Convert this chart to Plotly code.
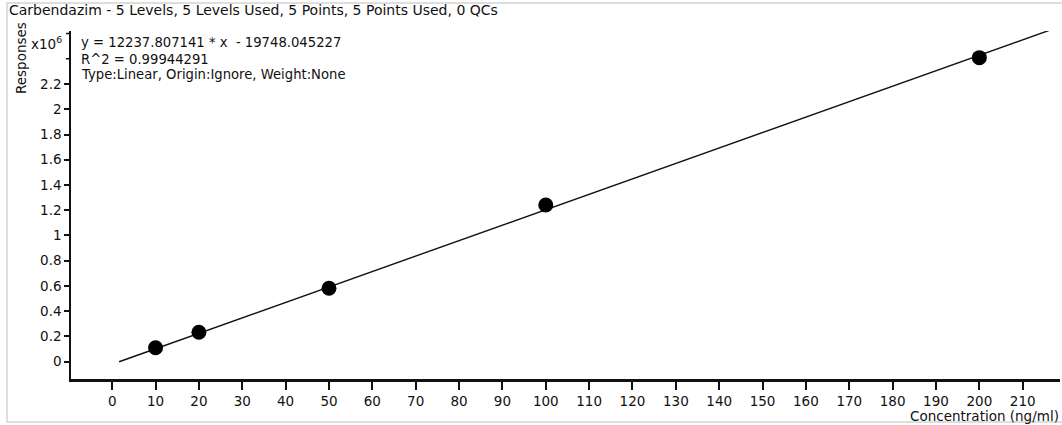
import plotly.graph_objects as go

# Calibration levels and measured responses
concentration = [10, 20, 50, 100, 200]
response = [111000, 233000, 582000, 1242000, 2409000]

# Linear fit parameters
slope = 12237.807141
intercept = -19748.045227
r_squared = 0.99944291
fit_x = [1.6, 216.5]
fit_y = [slope * x + intercept for x in fit_x]

# Axis ticks
x_ticks = list(range(0, 220, 10))
y_tick_vals = [i * 200000 for i in range(12)]
y_tick_text = ["0", "0.2", "0.4", "0.6", "0.8", "1", "1.2", "1.4", "1.6",
               "1.8", "2", "2.2"]
y_bare_ticks = [2400000, 2600000]

title_text = "Carbendazim - 5 Levels, 5 Levels Used, 5 Points, 5 Points Used, 0 QCs"
eq_lines = [
    f"y = {slope:.6f} * x  - {abs(intercept):.6f}",
    f"R^2 = {r_squared:.8f}",
    "Type:Linear, Origin:Ignore, Weight:None",
]

W, H = 1062, 425
ML, MR, MT, MB = 71, 2, 31, 46
FONT = "DejaVu Sans, Liberation Sans, Arial, sans-serif"
FS = 13.5

fig = go.Figure()
fig.add_trace(go.Scatter(
    x=fit_x, y=fit_y, mode="lines",
    line=dict(color="#111111", width=1.4), hoverinfo="skip",
))
fig.add_trace(go.Scatter(
    x=concentration, y=response, mode="markers",
    marker=dict(color="#000000", size=15, line=dict(width=0)),
))


def px_x(p):
    return (p - ML) / (W - ML - MR)


def px_y(p):
    return 1 - (p - MT) / (H - MT - MB)


annotations = [
    dict(text=title_text, x=px_x(7), y=px_y(10), xanchor="left", yanchor="middle",
         font=dict(size=14)),
    dict(text="x10<sup>6</sup>", x=px_x(29), y=px_y(43), xanchor="left", yanchor="middle",
         font=dict(size=FS)),
    dict(text="Responses", x=px_x(21), y=px_y(58), xanchor="center", yanchor="middle",
         textangle=-90, font=dict(size=FS)),
    dict(text="Concentration (ng/ml)", x=px_x(1061), y=px_y(416), xanchor="right",
         yanchor="middle", font=dict(size=FS)),
]
for i, line in enumerate(eq_lines):
    annotations.append(dict(text=line, x=px_x(79), y=px_y(43 + 16 * i), xanchor="left",
                            yanchor="middle", font=dict(size=13.2)))
for a in annotations:
    a.update(xref="paper", yref="paper", showarrow=False)

shapes = [dict(type="rect", xref="paper", yref="paper",
               x0=px_x(7), x1=px_x(1070), y0=px_y(422), y1=px_y(3),
               line=dict(color="#d4d4d4", width=1.5), layer="below")]
for v in y_bare_ticks:
    shapes.append(dict(type="line", xref="paper", yref="y", x0=px_x(66), x1=px_x(71),
                       y0=v, y1=v, line=dict(color="#111111", width=1.5)))

fig.update_layout(
    width=W, height=H,
    margin=dict(l=ML, r=MR, t=MT, b=MB),
    paper_bgcolor="white", plot_bgcolor="white",
    showlegend=False,
    font=dict(family=FONT, color="#111111", size=FS),
    annotations=annotations,
    shapes=shapes,
    xaxis=dict(
        range=[-9.5, 218.6], tickvals=x_ticks, ticks="outside", ticklen=8,
        tickwidth=1.5, tickcolor="#111111", showline=True, linecolor="#111111",
        linewidth=2.5, showgrid=False, zeroline=False, tickfont=dict(size=FS),
    ),
    yaxis=dict(
        range=[-137000, 2620000], tickvals=y_tick_vals, ticktext=y_tick_text,
        ticks="outside", ticklen=5, tickwidth=1.5, tickcolor="#111111",
        showline=True, linecolor="#111111", linewidth=1.5, showgrid=False,
        zeroline=False, tickfont=dict(size=FS),
    ),
)

fig.write_html("out.html")
